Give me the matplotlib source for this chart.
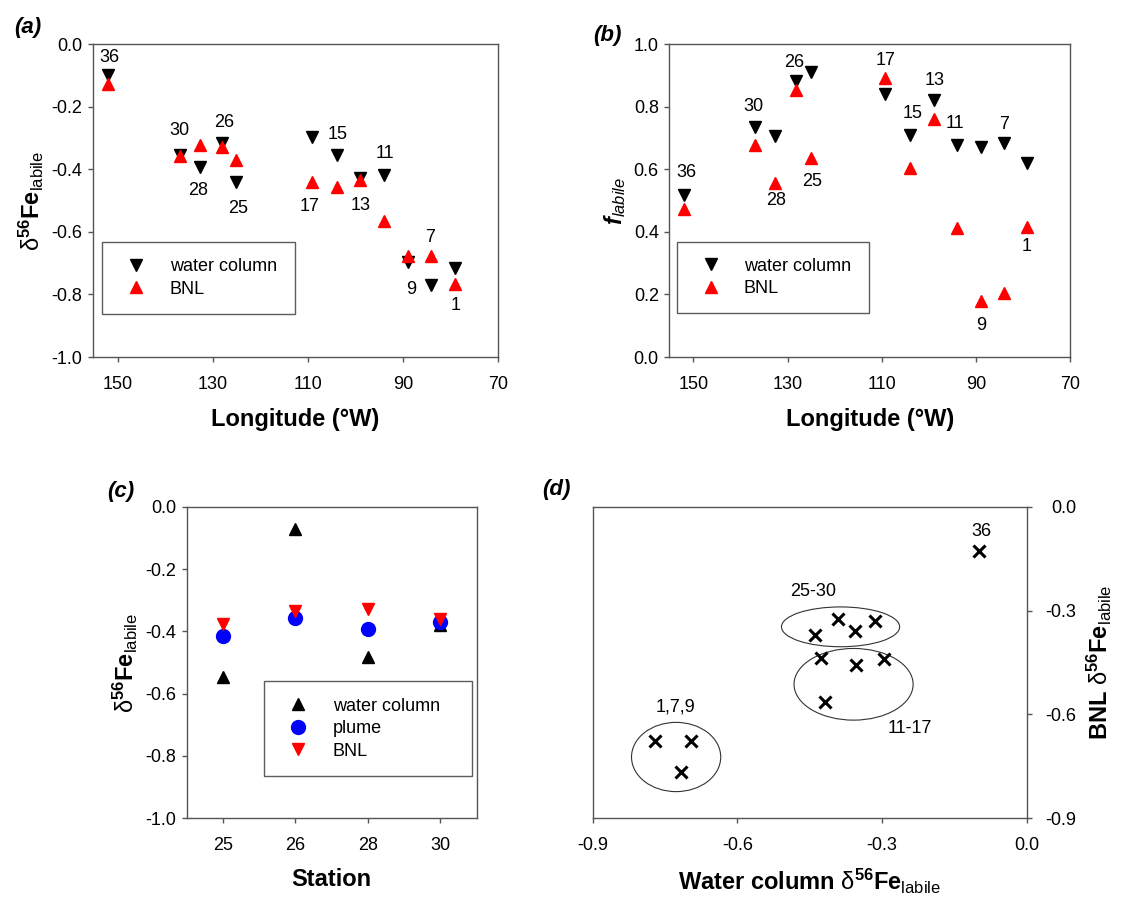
import matplotlib
matplotlib.use('Agg')
import matplotlib.pyplot as plt
from matplotlib.patches import Ellipse

plt.rcParams['font.family'] = ['Liberation Sans', 'DejaVu Sans']
plt.rcParams['mathtext.fontset'] = 'custom'
plt.rcParams['mathtext.rm'] = 'Liberation Sans'
plt.rcParams['mathtext.it'] = 'Liberation Sans:italic'
plt.rcParams['mathtext.bf'] = 'Liberation Sans:bold'
plt.rcParams['mathtext.bfit'] = 'Liberation Sans:bold:italic'

# Станции вдоль разреза
stations = ['36', '30', '28', '26', '25', '17', '15', '13', '11', '9', '7', '1']
longitude = [152.0, 137.0, 132.6, 128.1, 125.1, 109.2, 103.9, 99.0, 94.0, 89.0, 84.0, 79.1]

# delta56Fe labile
wc_delta = [-0.098, -0.356, -0.392, -0.315, -0.440, -0.296, -0.354, -0.427, -0.418, -0.696, -0.771, -0.717]
bnl_delta = [-0.128, -0.358, -0.324, -0.330, -0.372, -0.441, -0.458, -0.436, -0.564, -0.678, -0.676, -0.767]

# f labile
wc_f = [0.518, 0.734, 0.707, 0.883, 0.909, 0.840, 0.710, 0.820, 0.678, 0.672, 0.683, 0.621]
bnl_f = [0.472, 0.676, 0.557, 0.852, 0.635, 0.893, 0.605, 0.761, 0.411, 0.178, 0.205, 0.414]

# Панель (c): станции 25-30
c_stations = ['25', '26', '28', '30']
c_water = [-0.545, -0.073, -0.481, -0.380]
c_plume = [-0.415, -0.358, -0.393, -0.371]
c_bnl = [-0.376, -0.334, -0.329, -0.361]

# Смещения подписей станций (в пикселях относительно точки water column)
offsets_a = [(1, 17), (0, 25), (-2, -24), (2, 20), (2, -27), (-2, -70),
             (1, 20), (0, -28), (1, 21), (3, -28), (-1, 48), (1, -37)]
offsets_b = [(2, 22), (-1, 21), (1, -65), (-2, 18), (2, -109), (0, 34),
             (2, 21), (1, 20), (-2, 21), (1, -179), (0, 19), (-1, -84)]

# Группы на панели (d): (подпись, центр x, центр y, ширина, высота, позиция подписи)
groups = [
    ('25-30', -0.386, -0.347, 0.245, 0.115, (-0.442, -0.245)),
    ('11-17', -0.359, -0.513, 0.247, 0.207, (-0.242, -0.640)),
    ('1,7,9', -0.727, -0.723, 0.185, 0.200, (-0.729, -0.579)),
]

SPINE = '#555555'
FS = 13
LFS = 17
DELTA = r'$\mathrm{\delta}^{\mathbf{56}}\mathbf{Fe}_{\mathrm{labile}}$'


def style_axes(ax):
    for sp in ax.spines.values():
        sp.set_color(SPINE)
        sp.set_linewidth(1.0)
    ax.tick_params(direction='out', length=3.6, width=1, color=SPINE,
                   labelsize=FS, pad=4)
    ax.tick_params(axis='x', pad=10)


def add_legend(ax, bbox, pad, handlelen, textpad):
    leg = ax.legend(loc='upper left', bbox_to_anchor=bbox, mode='expand',
                    frameon=True, fancybox=False, edgecolor='#333333',
                    fontsize=FS, borderpad=pad, handlelength=handlelen,
                    handletextpad=textpad, labelspacing=0.3, borderaxespad=0)
    leg.get_frame().set_linewidth(1.0)
    return leg


fig = plt.figure(figsize=(11.27, 9), dpi=100)

# (a)
ax_a = fig.add_axes([0.0825, 0.6033, 0.3594, 0.3478])
style_axes(ax_a)
ax_a.plot(longitude, wc_delta, 'v', color='black', ms=8, label='water column')
ax_a.plot(longitude, bnl_delta, '^', color='red', ms=8, label='BNL')
for st, x, y, off in zip(stations, longitude, wc_delta, offsets_a):
    ax_a.annotate(st, (x, y), xytext=off, textcoords='offset pixels',
                  ha='center', va='center', fontsize=FS)
ax_a.set_xlim(155.2, 70)
ax_a.set_ylim(-1.0, 0.0)
ax_a.set_xticks([150, 130, 110, 90, 70])
ax_a.set_yticks([0.0, -0.2, -0.4, -0.6, -0.8, -1.0])
ax_a.yaxis.set_major_formatter(plt.FormatStrFormatter('%.1f'))
ax_a.set_xlabel('Longitude (°W)', fontsize=LFS, fontweight='bold', labelpad=11)
ax_a.set_ylabel(DELTA, fontsize=LFS, labelpad=4)
add_legend(ax_a, (0.0215, 0.268, 0.478, 0.1), 0.9, 2.0, 0.87)

# (b)
ax_b = fig.add_axes([0.5939, 0.6033, 0.3556, 0.3478])
style_axes(ax_b)
ax_b.plot(longitude, wc_f, 'v', color='black', ms=8, label='water column')
ax_b.plot(longitude, bnl_f, '^', color='red', ms=8, label='BNL')
for st, x, y, off in zip(stations, longitude, wc_f, offsets_b):
    ax_b.annotate(st, (x, y), xytext=off, textcoords='offset pixels',
                  ha='center', va='center', fontsize=FS)
ax_b.set_xlim(155.1, 70)
ax_b.set_ylim(0.0, 1.0)
ax_b.set_xticks([150, 130, 110, 90, 70])
ax_b.set_yticks([0.0, 0.2, 0.4, 0.6, 0.8, 1.0])
ax_b.yaxis.set_major_formatter(plt.FormatStrFormatter('%.1f'))
ax_b.set_xlabel('Longitude (°W)', fontsize=LFS, fontweight='bold', labelpad=11)
ax_b.set_ylabel(r'$\mathbfit{f}_{\mathit{labile}}$', fontsize=LFS, labelpad=4)
add_legend(ax_b, (0.0185, 0.269, 0.48, 0.1), 0.9, 2.0, 0.8)

# (c)
ax_c = fig.add_axes([0.1657, 0.0908, 0.2573, 0.3462])
style_axes(ax_c)
pos = list(range(len(c_stations)))
ax_c.plot(pos, c_water, '^', color='black', ms=9, label='water column')
ax_c.plot(pos, c_plume, 'o', color='blue', ms=10, label='plume')
ax_c.plot(pos, c_bnl, 'v', color='red', ms=9, label='BNL')
ax_c.set_xlim(-0.5, 3.5)
ax_c.set_ylim(-1.0, 0.0)
ax_c.set_xticks(pos)
ax_c.set_xticklabels(c_stations)
ax_c.set_yticks([0.0, -0.2, -0.4, -0.6, -0.8, -1.0])
ax_c.yaxis.set_major_formatter(plt.FormatStrFormatter('%.1f'))
ax_c.set_xlabel('Station', fontsize=LFS, fontweight='bold', labelpad=10)
ax_c.set_ylabel(DELTA, fontsize=LFS, labelpad=4)
add_legend(ax_c, (0.2666, 0.339, 0.717, 0.1), 0.9, 2.0, 0.9)

# (d)
ax_d = fig.add_axes([0.5259, 0.0908, 0.3851, 0.3462])
style_axes(ax_d)
ax_d.plot(wc_delta, bnl_delta, 'x', color='black', ms=8, mew=2.2)
ax_d.annotate(stations[0], (wc_delta[0], bnl_delta[0]), xytext=(2, 20),
              textcoords='offset pixels', ha='center', va='center', fontsize=FS)
for name, cx, cy, w, h, lab in groups:
    ax_d.add_patch(Ellipse((cx, cy), w, h, fill=False, edgecolor='#333333', lw=0.8))
    ax_d.text(lab[0], lab[1], name, ha='center', va='center', fontsize=FS)
ax_d.set_xlim(-0.9, 0.0)
ax_d.set_ylim(-0.9, 0.0)
ax_d.set_xticks([-0.9, -0.6, -0.3, 0.0])
ax_d.set_yticks([-0.9, -0.6, -0.3, 0.0])
ax_d.xaxis.set_major_formatter(plt.FormatStrFormatter('%.1f'))
ax_d.yaxis.set_major_formatter(plt.FormatStrFormatter('%.1f'))
ax_d.yaxis.tick_right()
ax_d.yaxis.set_label_position('right')
ax_d.tick_params(axis='y', pad=32)
for lbl in ax_d.get_yticklabels():
    lbl.set_horizontalalignment('right')
ax_d.set_xlabel(r'$\mathbf{Water\ column}\ $' + DELTA, fontsize=LFS, labelpad=9)
ax_d.set_ylabel(r'$\mathbf{BNL}\ $' + DELTA, fontsize=LFS, labelpad=6)

# Подписи панелей
for txt, x, y in [('(a)', 28, 28), ('(b)', 607, 35), ('(c)', 121, 491), ('(d)', 556, 490)]:
    fig.text(x / 1127, 1 - y / 900, txt, fontsize=16, fontweight='bold',
             fontstyle='italic', ha='center', va='center')

fig.savefig('out.png', dpi=100)
